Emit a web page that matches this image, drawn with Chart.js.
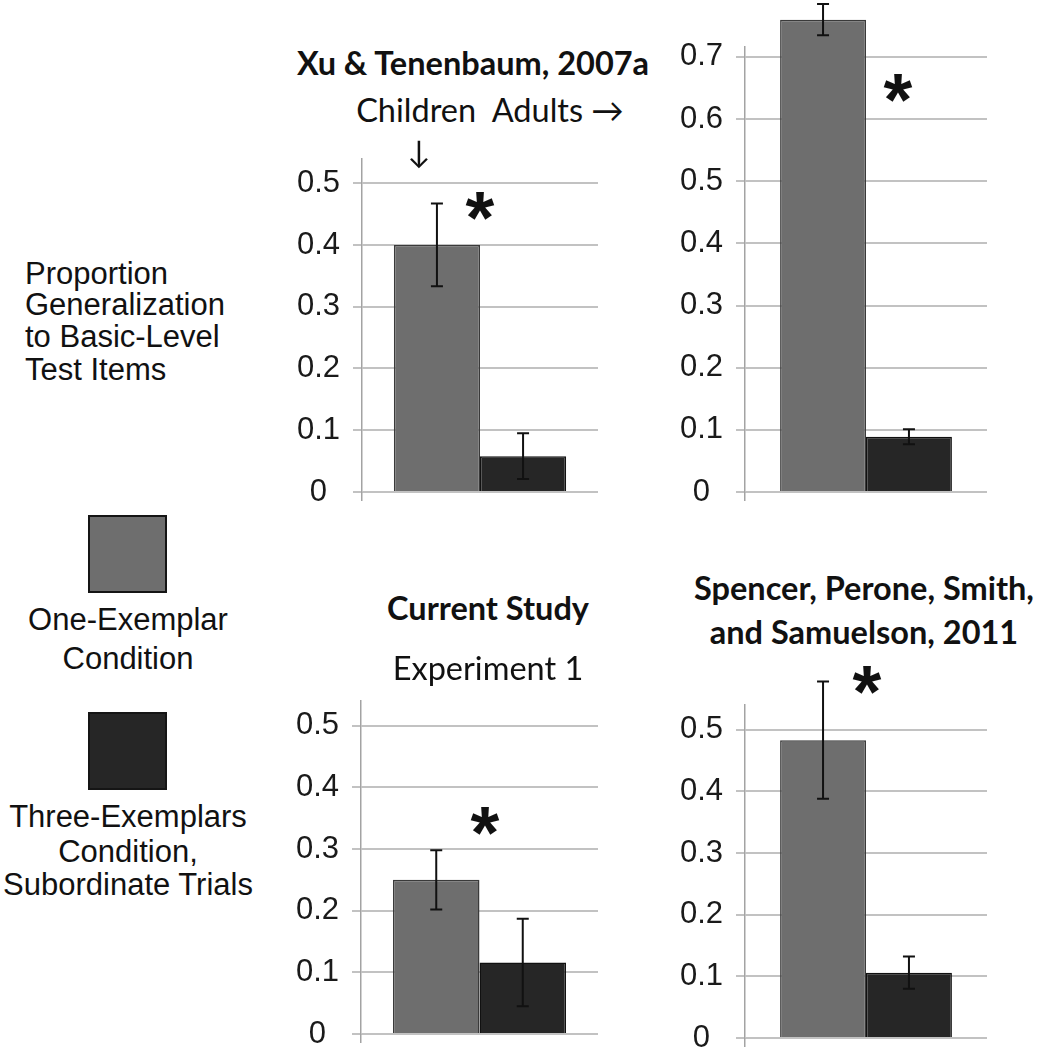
<!DOCTYPE html>
<html>
<head>
<meta charset="utf-8">
<script src="https://cdn.jsdelivr.net/npm/chart.js@4.4.1/dist/chart.umd.min.js"></script>
<style>
  html, body { margin: 0; padding: 0; background: #fff; overflow: hidden; }
  #page { position: relative; width: 1049px; height: 1050px; overflow: hidden; }
  canvas { position: absolute; }
  .t { position: absolute; white-space: nowrap; line-height: 1; color: #111; transform: translate(-50%, -50%); }
  .cal { font-family: Lato, "Open Sans", sans-serif; font-size: 32.5px; }
  .cal.b { font-weight: bold; }
  .ari { font-family: "Liberation Sans", Arial, sans-serif; font-size: 31px; }
  .left { transform: translate(0, -50%); }
  .star { font-family: "Liberation Sans", Arial, sans-serif; font-weight: bold; font-size: 74px; }
  .swatch { position: absolute; box-sizing: border-box; border: 2px solid #151515; }
</style>
</head>
<body>
<div id="page">
  <canvas id="c0"></canvas>
  <canvas id="c1"></canvas>
  <canvas id="c2"></canvas>
  <canvas id="c3"></canvas>

  <!-- titulos de cada panel -->
  <div class="t cal b" style="left:473px; top:63px;">Xu &amp; Tenenbaum, 2007a</div>
  <div class="t cal" style="left:490px; top:110px;">Children&nbsp;&nbsp;Adults &rarr;</div>
  <div class="t cal" style="left:419px; top:151px; font-size:31px;">&darr;</div>
  <div class="t cal b" style="left:488px; top:608px;">Current Study</div>
  <div class="t cal" style="left:488px; top:668px;">Experiment 1</div>
  <div class="t cal b" style="left:864px; top:588px;">Spencer, Perone, Smith,</div>
  <div class="t cal b" style="left:864px; top:632px;">and Samuelson, 2011</div>

  <!-- etiqueta del eje y -->
  <div class="t ari left" style="left:25px; top:273px;">Proportion</div>
  <div class="t ari left" style="left:25px; top:304px;">Generalization</div>
  <div class="t ari left" style="left:25px; top:336px;">to Basic-Level</div>
  <div class="t ari left" style="left:25px; top:369px;">Test Items</div>

  <!-- leyenda -->
  <div class="swatch" id="sw0" style="left:88px; top:515px; width:79px; height:78px;"></div>
  <div class="t ari" style="left:128px; top:619px;">One-Exemplar</div>
  <div class="t ari" style="left:128px; top:658px;">Condition</div>
  <div class="swatch" id="sw1" style="left:88px; top:712px; width:79px; height:78px;"></div>
  <div class="t ari" style="left:128px; top:816px;">Three-Exemplars</div>
  <div class="t ari" style="left:128px; top:851px;">Condition,</div>
  <div class="t ari" style="left:128px; top:884px;">Subordinate Trials</div>

  <!-- asteriscos de significancia -->
  <div class="t star" style="left:480px; top:218px;">*</div>
  <div class="t star" style="left:898px; top:100px;">*</div>
  <div class="t star" style="left:485px; top:833px;">*</div>
  <div class="t star" style="left:867px; top:692px;">*</div>
</div>

<script>
// === DATOS ===
const panelNames = ['Children (Xu & Tenenbaum, 2007a)', 'Adults (Xu & Tenenbaum, 2007a)', 'Current Study, Experiment 1', 'Spencer et al., 2011'];
const seriesNames = ['One-Exemplar Condition', 'Three-Exemplars Condition, Subordinate Trials'];
const oneExemplar = [0.40, 0.76, 0.25, 0.483];
const oneExemplarErr = [0.067, 0.025, 0.048, 0.095];
const threeExemplars = [0.058, 0.089, 0.116, 0.106];
const threeExemplarsErr = [0.037, 0.012, 0.071, 0.026];
const tickValues = [0, 0.1, 0.2, 0.3, 0.4, 0.5, 0.6, 0.7];
const tickLabels = ['0', '0.1', '0.2', '0.3', '0.4', '0.5', '0.6', '0.7'];
const topTick = [0.5, 0.7, 0.5, 0.5];
const axisMax = [0.54, 0.716, 0.54, 0.54];

// colores
const GRAY = '#6e6e6e';
const DARK = '#262626';
document.getElementById('sw0').style.background = GRAY;
document.getElementById('sw1').style.background = DARK;

// posicion de cada canvas y de su area de dibujo (px de la pagina)
const layout = [
    { left: 270, top: 130, w: 340, h: 410, L: 362, R: 598, T: 158, B: 492, cat: 0.73 },
    { left: 655, top: 0,   w: 345, h: 540, L: 745, R: 987, T: 47,  B: 492, cat: 0.71 },
    { left: 270, top: 670, w: 340, h: 410, L: 361, R: 598, T: 701, B: 1034, cat: 0.73 },
    { left: 655, top: 670, w: 345, h: 410, L: 745, R: 987, T: 705, B: 1038, cat: 0.71 }
];
const X_AXIS_H = 9;

// barras de error dibujadas con la escala del grafico
const errorBars = {
    id: 'errorBars',
    afterDatasetsDraw(chart) {
        const ctx = chart.ctx;
        const y = chart.scales.y;
        ctx.save();
        ctx.strokeStyle = '#111';
        ctx.lineWidth = 2;
        chart.data.datasets.forEach((ds, di) => {
            chart.getDatasetMeta(di).data.forEach((bar, j) => {
                const v = ds.data[j];
                const e = ds.errors[j];
                const yTop = y.getPixelForValue(v + e);
                const yBot = y.getPixelForValue(v - e);
                const cap = 6;
                ctx.beginPath();
                ctx.moveTo(bar.x, yTop); ctx.lineTo(bar.x, yBot);
                ctx.moveTo(bar.x - cap, yTop); ctx.lineTo(bar.x + cap, yTop);
                ctx.moveTo(bar.x - cap, yBot); ctx.lineTo(bar.x + cap, yBot);
                ctx.stroke();
            });
        });
        ctx.restore();
    }
};

function crearPanel(i) {
    const lay = layout[i];
    const canvas = document.getElementById('c' + i);
    canvas.width = lay.w;
    canvas.height = lay.h;
    canvas.style.left = lay.left + 'px';
    canvas.style.top = lay.top + 'px';

    const yWidth = lay.L - lay.left;

    new Chart(canvas, {
        type: 'bar',
        data: {
            labels: [panelNames[i]],
            datasets: [
                {
                    label: seriesNames[0],
                    data: [oneExemplar[i]],
                    errors: [oneExemplarErr[i]],
                    backgroundColor: GRAY,
                    borderColor: '#3a3a3a',
                    borderWidth: 1.5,
                    clip: false
                },
                {
                    label: seriesNames[1],
                    data: [threeExemplars[i]],
                    errors: [threeExemplarsErr[i]],
                    backgroundColor: DARK,
                    borderColor: '#111',
                    borderWidth: 1.5,
                    clip: false
                }
            ]
        },
        options: {
            responsive: false,
            animation: false,
            devicePixelRatio: 1,
            layout: {
                padding: {
                    top: lay.T - lay.top,
                    right: lay.left + lay.w - lay.R,
                    bottom: lay.top + lay.h - lay.B - X_AXIS_H,
                    left: 0
                }
            },
            plugins: { legend: { display: false }, tooltip: { enabled: false } },
            datasets: { bar: { categoryPercentage: lay.cat, barPercentage: 1 } },
            scales: {
                x: {
                    ticks: { display: false },
                    border: { display: false },
                    grid: {
                        drawOnChartArea: false,
                        drawTicks: true,
                        tickLength: X_AXIS_H,
                        lineWidth: 1.5,
                        color: c => c.index === 0 ? '#a3a3a3' : 'rgba(0,0,0,0)'
                    },
                    afterFit: s => { s.height = X_AXIS_H; }
                },
                y: {
                    min: 0,
                    max: axisMax[i],
                    afterBuildTicks: s => {
                        s.ticks = tickValues.filter(v => v <= topTick[i] + 1e-9).map(v => ({ value: v }));
                    },
                    ticks: {
                        font: { family: '"Liberation Sans", Arial, sans-serif', size: 31, lineHeight: 1 },
                        color: '#1a1a1a',
                        padding: 13,
                        crossAlign: 'center',
                        callback: v => tickLabels[tickValues.findIndex(t => Math.abs(t - v) < 1e-9)]
                    },
                    grid: { color: '#c2c2c2', lineWidth: 2, tickLength: 9 },
                    border: { color: '#a3a3a3', width: 1.5 },
                    afterFit: s => { s.width = yWidth; }
                }
            }
        },
        plugins: [errorBars]
    });
}

for (let i = 0; i < 4; i++) crearPanel(i);
</script>
</body>
</html>
